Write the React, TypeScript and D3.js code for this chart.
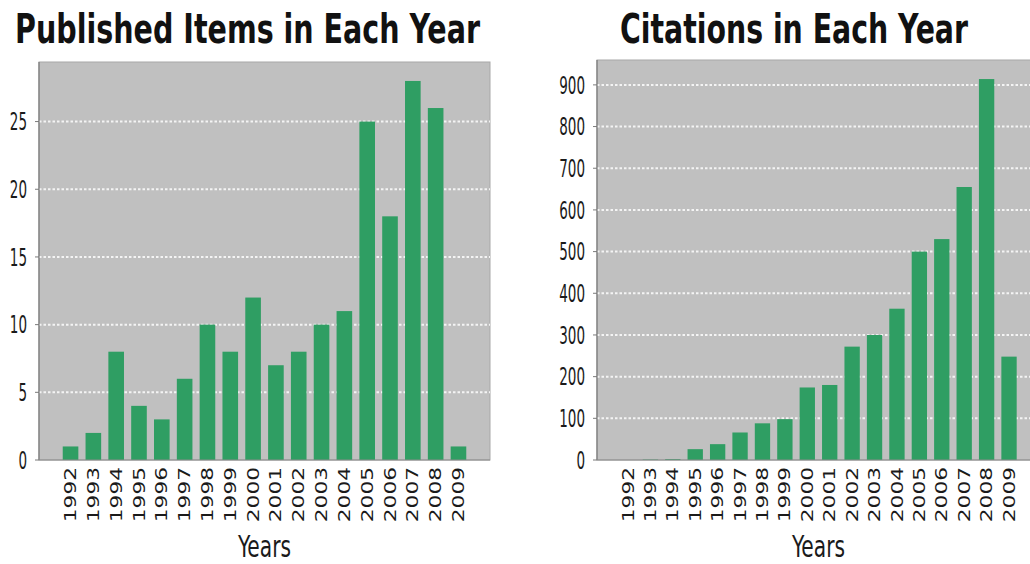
import React from "react";
import * as d3 from "d3";

const years = ["1992","1993","1994","1995","1996","1997","1998","1999","2000","2001","2002","2003","2004","2005","2006","2007","2008","2009"];
const publishedItems = [1,2,8,4,3,6,10,8,12,7,8,10,11,25,18,28,26,1];
const citations = [0,1,2,26,38,66,88,98,174,180,272,300,363,500,530,655,914,248];
const publishedTicks = [0,5,10,15,20,25];
const citationTicks = [0,100,200,300,400,500,600,700,800,900];
const titles = ["Published Items in Each Year", "Citations in Each Year"];
const xLabel = "Years";

const FONT = "'DejaVu Sans Condensed', 'DejaVu Sans', sans-serif";
const SY = 1.6;

type PanelProps = {
  values: number[];
  ticks: number[];
  title: string;
  titleX: number;
  titleW: number;
  left: number;
  right: number;
  top: number;
};

function Panel({ values, ticks, title, titleX, titleW, left, right, top }: PanelProps) {
  const bottom = 460;
  const x = d3.scaleBand<string>().domain(years).range([left, right]).paddingInner(0.316).paddingOuter(1.04);
  const y = d3.scaleLinear().domain([0, (d3.max(values) as number) * 1.05]).range([bottom, top]);
  const center = (left + right) / 2;
  return (
    <g>
      <text
        transform={`translate(${titleX},43) scale(1,${SY})`}
        fontFamily={FONT}
        fontWeight="bold"
        fontSize={26}
        textLength={titleW}
        lengthAdjust="spacingAndGlyphs"
        fill="#111"
      >
        {title}
      </text>
      <rect x={left} y={top} width={right - left} height={bottom - top} fill="#c0c0c0" stroke="#a8a8a8" strokeWidth={1} />
      {ticks.filter((t) => t > 0).map((t) => (
        <line key={"g" + t} x1={left} x2={right} y1={y(t)} y2={y(t)} stroke="#f4f4f4" strokeWidth={2} strokeDasharray="2.5,2" />
      ))}
      {values.map((v, i) => (
        <rect
          key={years[i]}
          x={x(years[i])}
          y={y(v)}
          width={x.bandwidth()}
          height={bottom - y(v)}
          fill="#2f9e63"
        />
      ))}
      <line x1={left} x2={left} y1={top} y2={bottom} stroke="#7a7a7a" strokeWidth={1.2} />
      <line x1={left} x2={right} y1={bottom} y2={bottom} stroke="#8a8a8a" strokeWidth={1.2} />
      {ticks.map((t) => (
        <g key={"t" + t}>
          <line x1={left - 4} x2={left} y1={y(t)} y2={y(t)} stroke="#7a7a7a" />
          <text
            transform={`translate(${left - 12},${y(t)}) scale(1,${SY})`}
            dy="0.36em"
            textAnchor="end"
            fontFamily={FONT}
            fontSize={15}
            fill="#1a1a1a"
          >
            {t}
          </text>
        </g>
      ))}
      {years.map((yr) => (
        <text
          key={"x" + yr}
          transform={`translate(${(x(yr) as number) + x.bandwidth() / 2},467) scale(1,${SY}) rotate(-90)`}
          dy="0.36em"
          textAnchor="end"
          fontFamily={FONT}
          fontSize={15.5}
          textLength={34.5}
          lengthAdjust="spacingAndGlyphs"
          fill="#1a1a1a"
        >
          {yr}
        </text>
      ))}
      <text
        transform={`translate(${center},557) scale(1,${SY})`}
        textAnchor="middle"
        fontFamily={FONT}
        fontSize={19}
        textLength={53}
        lengthAdjust="spacingAndGlyphs"
        fill="#1a1a1a"
      >
        {xLabel}
      </text>
    </g>
  );
}

export default function App() {
  return (
    <svg width={1030} height={564} style={{ position: "absolute", left: 0, top: 0, background: "#fff" }}>
      <rect x={0} y={0} width={1030} height={564} fill="#fff" />
      <Panel values={publishedItems} ticks={publishedTicks} title={titles[0]} titleX={15} titleW={465} left={39} right={490} top={62} />
      <Panel values={citations} ticks={citationTicks} title={titles[1]} titleX={620} titleW={348} left={597} right={1040} top={60} />
    </svg>
  );
}
